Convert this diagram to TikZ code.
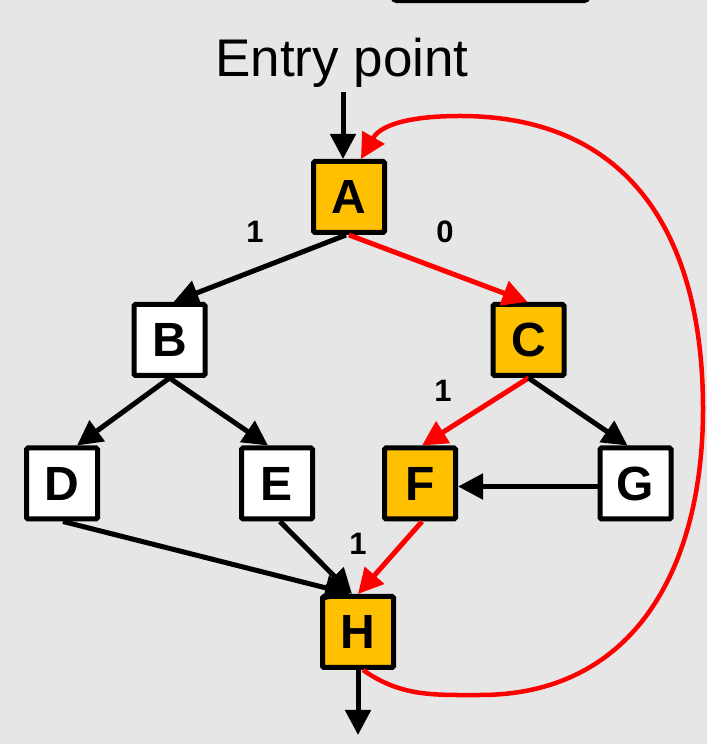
\documentclass[tikz,border=0pt]{standalone}
\usepackage{fontspec}
\setmainfont{Liberation Sans}
\usetikzlibrary{arrows.meta}
\definecolor{bggray}{HTML}{E6E6E6}
\definecolor{hot}{HTML}{FFC000}
\definecolor{loopred}{HTML}{FF0000}
\tikzset{
  blk/.style={draw=black, line width=5pt, rounded corners=1.5pt, fill=white,
    minimum width=71pt, minimum height=71pt, inner sep=0pt,
    font=\fontsize{48}{48}\selectfont\bfseries},
  hotblk/.style={blk, fill=hot},
  edge/.style={line width=5pt, -{Triangle[length=25pt,width=25pt]}},
  hotedge/.style={edge, draw=loopred, color=loopred},
  lbl/.style={font=\fontsize{31}{31}\selectfont\bfseries, inner sep=0pt}
}
\begin{document}
\begin{tikzpicture}[x=1pt,y=1pt]
  % canvas
  \fill[bggray] (0,0) rectangle (707,744);
  \useasboundingbox (0,0) rectangle (707,744);
  \clip (0,0) rectangle (707,744);

  % frame peeking in at the top edge
  \draw[line width=3.5pt, rounded corners=5pt] (392,790) rectangle (589,742.5);

  % title
  \node[anchor=base, inner sep=0pt, font=\fontsize{53}{53}\selectfont] (title) at (342,667) {Entry point};

  % blocks
  \node[hotblk] (A) at (349,547) {A};
  \node[blk]    (B) at (169.5,404) {B};
  \node[hotblk] (C) at (528.5,404) {C};
  \node[blk]    (D) at (62,260.5) {D};
  \node[blk]    (E) at (277,260.5) {E};
  \node[hotblk] (F) at (420,260.5) {F};
  \node[blk]    (G) at (635.5,260.5) {G};
  \node[hotblk] (H) at (358,112) {H};

  % free ends
  \coordinate (entry) at (343,652);
  \coordinate (exit) at (358,9);

  % branch labels
  \node[lbl] (l1) at (255,512) {1};
  \node[lbl] (l0) at (445,512) {0};
  \node[lbl] (l2) at (443,353) {1};
  \node[lbl] (l3) at (358,200) {1};

  % edges
  \draw[edge] (entry) -- ([xshift=-6pt]A.north);
  \draw[edge] ([xshift=-3pt]A.south) -- ([xshift=4pt]B.north);
  \draw[hotedge] (A.south) -- ([xshift=-1pt]C.north);
  \draw[edge] (B.south) -- ([xshift=15pt]D.north);
  \draw[edge] (B.south) -- ([xshift=-9pt]E.north);
  \draw[hotedge] (C.south) -- ([xshift=2pt]F.north);
  \draw[edge] (C.south) -- ([xshift=-8pt]G.north);
  \draw[edge] ([yshift=-3pt]G.west) -- ([yshift=-3pt]F.east);
  \draw[edge] ([xshift=1pt]D.south) -- ([xshift=-8pt]H.north);
  \draw[edge] ([xshift=3pt]E.south) -- ([xshift=-6pt]H.north);
  \draw[hotedge] ([xshift=2pt]F.south) -- (H.north);
  \draw[edge] (H.south) -- (exit);

  % back edge from H to A
  \coordinate (lb) at (480,49);
  \coordinate (rx) at (703,335);
  \coordinate (tp) at (460,628);
  \draw[hotedge, line width=4.5pt]
    ([xshift=5pt]H.south) to[out=-35,in=180] (lb)
    to[out=0,in=-90,looseness=1.1] (rx)
    to[out=90,in=0,looseness=1.15] (tp)
    to[out=180,in=60] ([xshift=12pt]A.north);
\end{tikzpicture}
\end{document}
